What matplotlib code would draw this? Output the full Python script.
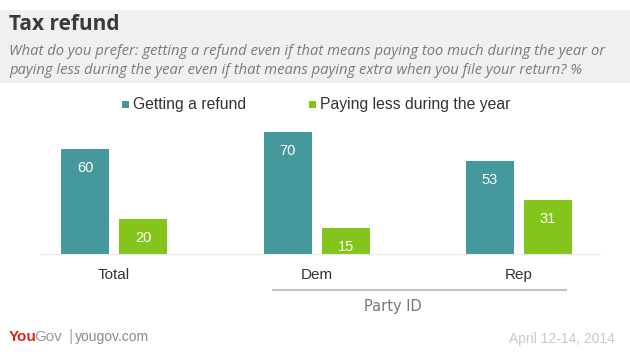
import matplotlib.pyplot as plt
import matplotlib.patches as mpatches

categories = ["Total", "Dem", "Rep"]
refund = [60, 70, 53]
pay_less = [20, 15, 31]
series_names = ["Getting a refund", "Paying less during the year"]

title = "Tax refund"
subtitle = ("What do you prefer: getting a refund even if that means paying too much during the year or\n"
            "paying less during the year even if that means paying extra when you file your return? %")
group_label = "Party ID"
date_text = "April 12-14, 2014"

teal = "#45999c"
green = "#84c51c"

W, H = 630, 354
fig = plt.figure(figsize=(W / 100, H / 100), dpi=100)

def fx(px):
    return px / W

def fy(py):
    return 1 - py / H

# grey header band
fig.patches.append(mpatches.Rectangle((0, fy(83)), 1, fy(10) - fy(83), transform=fig.transFigure,
                                      facecolor="#f0f0f0", edgecolor="none", zorder=0))
fig.text(fx(9), fy(25), title, fontsize=15, fontweight="bold", color="#3a3a3a",
         family="Open Sans", va="center", ha="left")
fig.text(fx(9), fy(61), subtitle, fontsize=10.6, style="italic", color="#7a7a7a",
         family="Open Sans", va="center", ha="left", linespacing=1.3)

# plot area: y=0 at 254px, 1.75 px per unit; groups 202.5px apart, first at 114px
L, R = 40, 600
ymax = 80
ax = fig.add_axes([fx(L), fy(254), fx(R - L), (ymax * 1.75) / H])
spacing = 202.5
ax.set_xlim(-(114 - L) / spacing, (R - 114) / spacing)
ax.set_ylim(0, ymax)

bw = 48 / spacing
off = 29 / spacing
xs = list(range(len(categories)))
b1 = ax.bar([x - off for x in xs], refund, width=bw, color=teal)
b2 = ax.bar([x + off for x in xs], pay_less, width=bw, color=green)
for bars, vals in [(b1, refund), (b2, pay_less)]:
    for b, v in zip(bars, vals):
        ax.text(b.get_x() + b.get_width() / 2, v - 11, str(v), ha="center", va="center",
                color="white", fontsize=10.5, family="Liberation Sans")

for s in ["top", "left", "right"]:
    ax.spines[s].set_visible(False)
ax.spines["bottom"].set_color("#ececec")
ax.set_yticks([])
ax.set_xticks(xs)
ax.set_xticklabels(categories, fontsize=11, family="Liberation Sans", color="#333333")
ax.tick_params(axis="x", length=0, pad=10)
ax.patch.set_visible(False)

# Party ID bracket
fig.add_artist(plt.Line2D([fx(273), fx(566)], [fy(290), fy(290)], color="#c4c4c4", lw=1.5))
fig.text(fx(393), fy(307), group_label, fontsize=10.5, color="#777777",
         family="DejaVu Sans", ha="center", va="center")

# legend
for sx, col, name in [(122, teal, series_names[0]), (309, green, series_names[1])]:
    fig.patches.append(mpatches.Rectangle((fx(sx), fy(108)), fx(7), fy(101) - fy(108),
                                          transform=fig.transFigure, facecolor=col, edgecolor="none"))
    fig.text(fx(sx + 11), fy(104.5), name, fontsize=11.3, color="#333333",
             family="Liberation Sans", ha="left", va="center")

# footer
fig.text(fx(9), fy(337), "You", fontsize=11, fontweight="bold", color="#e2231a",
         family="Liberation Sans", ha="left", va="center")
fig.text(fx(34.5), fy(337), "Gov", fontsize=11, color="#9a9a9a",
         family="Liberation Sans", ha="left", va="center")
fig.text(fx(68), fy(337), "|", fontsize=12, color="#b0b0b0",
         family="Liberation Sans", ha="left", va="center")
fig.text(fx(75), fy(337), "yougov.com", fontsize=10, color="#8a8a8a",
         family="Liberation Sans", ha="left", va="center")
fig.text(fx(615), fy(339), date_text, fontsize=10, color="#c9c9c9",
         family="Liberation Sans", ha="right", va="center")

fig.savefig("out.png", dpi=100)
